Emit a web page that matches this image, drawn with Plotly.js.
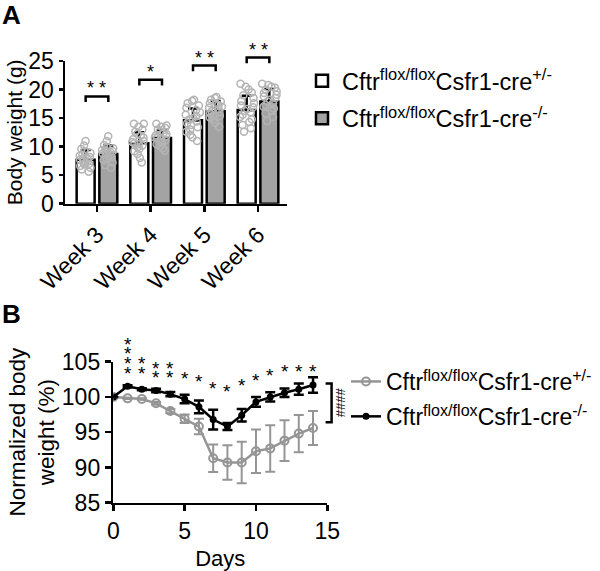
<!DOCTYPE html>
<html><head><meta charset="utf-8">
<script src="https://cdn.plot.ly/plotly-3.0.1.min.js"></script>
<style>html,body{margin:0;padding:0;background:#fff}#chart{width:600px;height:571px}</style>
</head><body><div id="chart"></div>
<script>
// ---------- Panel A data ----------
const weeks = ['Week 3', 'Week 4', 'Week 5', 'Week 6'];
const hetMean = [7.7, 10.6, 14.6, 16.4];
const hetSD = [1.7, 1.9, 2.1, 2.5];
const koMean = [8.7, 11.5, 16.2, 17.9];
const koSD = [1.5, 1.4, 1.8, 2.2];
const hetPoints = [
  [5.6, 6.0, 6.3, 6.6, 6.9, 7.0, 7.2, 7.4, 7.5, 7.7, 7.9, 8.0, 8.2, 8.4, 8.6, 8.9, 9.2, 9.6, 10.2, 11.0],
  [7.2, 8.0, 8.7, 9.2, 9.6, 9.9, 10.2, 10.4, 10.6, 10.8, 11.0, 11.3, 11.6, 11.9, 12.2, 12.6, 13.0, 13.5, 14.0, 14.0],
  [11.0, 11.6, 12.1, 12.6, 13.0, 13.4, 13.8, 14.1, 14.4, 14.7, 15.0, 15.3, 15.6, 16.0, 16.4, 16.8, 17.2, 17.6, 18.0, 18.2],
  [12.6, 13.2, 13.8, 14.3, 14.8, 15.2, 15.6, 16.0, 16.3, 16.6, 16.9, 17.2, 17.6, 18.0, 18.5, 19.0, 19.5, 20.0, 20.5, 21.0]
];
const koPoints = [
  [6.3, 6.8, 7.2, 7.6, 7.9, 8.1, 8.3, 8.5, 8.7, 8.8, 9.0, 9.1, 9.2, 9.4, 9.5, 9.7, 9.9, 10.3, 11.0, 11.8],
  [9.3, 9.7, 10.1, 10.4, 10.7, 10.9, 11.1, 11.3, 11.5, 11.6, 11.8, 12.0, 12.2, 12.4, 12.7, 13.0, 13.3, 13.5, 13.7, 14.0],
  [13.5, 14.2, 14.7, 15.1, 15.3, 15.4, 15.6, 15.8, 16.0, 16.2, 16.4, 16.6, 16.8, 17.0, 17.3, 17.6, 17.9, 18.2, 18.5, 18.7],
  [14.5, 15.2, 15.8, 16.3, 16.7, 17.0, 17.3, 17.6, 17.9, 18.2, 18.5, 18.8, 19.1, 19.4, 19.7, 20.0, 20.3, 20.5, 20.8, 21.0]
];
const sigA = ['**', '*', '**', '**'];
const sigAy = [18.8, 21.7, 24.2, 25.6];

// ---------- Panel B data ----------
const days = [0, 1, 2, 3, 4, 5, 6, 7, 8, 9, 10, 11, 12, 13, 14];
const hetNorm = [100, 99.8, 99.7, 99.1, 98.0, 96.9, 95.8, 91.3, 90.7, 90.7, 92.3, 92.7, 93.8, 94.8, 95.6];
const hetNormSD = [0, 0.1, 0.1, 0.2, 0.3, 0.6, 1.1, 1.95, 2.45, 2.95, 3.1, 3.3, 2.9, 2.65, 2.4];
const koNorm = [100, 101.5, 101.1, 100.9, 100.4, 99.7, 98.6, 96.8, 95.8, 97.4, 99.3, 100.0, 100.6, 101.1, 101.7];
const koNormSD = [0, 0.15, 0.15, 0.25, 0.3, 0.6, 0.9, 1.4, 0.5, 0.9, 0.7, 0.65, 0.6, 0.8, 1.1];
const starCount = [0, 4, 2, 2, 2, 1, 1, 1, 1, 1, 1, 1, 1, 1, 1];
const starY = [null, 104.1, 104.1, 103.45, 103.45, 103.35, 102.95, 101.95, 101.55, 102.3, 103.1, 103.8, 104.3, 104.3, 104.3];
const groupSig = '####';
const groupBracketY = [101.9, 96.4];
const groupBracketX = [14.88, 15.3];

const names = [
  'Cftr<sup>flox/flox</sup>Csfr1-cre<sup>+/-</sup>',
  'Cftr<sup>flox/flox</sup>Csfr1-cre<sup>-/-</sup>'
];

// ---------- styles / layout geometry ----------
const FONT = 'Liberation Sans, Arial, sans-serif';
const GRAY_BAR = '#a3a3a3';
const GRAY_PT = '#b4b4b4';
const GRAY_LINE = '#959595';
const BARGAP = 0.155, BARGROUPGAP = 0.207;
const OFF = (1 - BARGAP) / 4;
const idx = weeks.map((w, i) => i);

const domAx = [65 / 600, 287 / 600], domAy = [1 - 203.7 / 571, 1 - 61 / 571];
const rangeAx = [-0.596, 3.54], rangeAy = [0, 25];
const domBx = [113.3 / 600, 327.3 / 600], domBy = [1 - 502.7 / 571, 1 - 361.7 / 571];
const rangeBx = [0, 15], rangeBy = [85, 105];
// map an axis value to paper fraction (for marks placed beyond the axis range)
function toPaper(v, dom, rng) { return dom[0] + (v - rng[0]) / (rng[1] - rng[0]) * (dom[1] - dom[0]); }

const traces = [];
traces.push({
  type: 'bar', x: idx, y: hetMean, name: names[0], legend: 'legend', legendgroup: 'a1',
  marker: {color: '#ffffff', line: {color: '#000', width: 2.5}},
  error_y: {type: 'data', symmetric: false, array: hetSD, arrayminus: hetSD.map(() => 0), color: '#000', thickness: 2.5, width: 5},
  xaxis: 'x', yaxis: 'y', hoverinfo: 'skip'
});
traces.push({
  type: 'bar', x: idx, y: koMean, name: names[1], legend: 'legend', legendgroup: 'a2',
  marker: {color: GRAY_BAR, line: {color: '#000', width: 2.5}},
  error_y: {type: 'data', symmetric: false, array: koSD, arrayminus: koSD.map(() => 0), color: '#000', thickness: 2.5, width: 5},
  xaxis: 'x', yaxis: 'y', hoverinfo: 'skip'
});
function boxTrace(pts) {
  const x = [], y = [];
  pts.forEach((arr, i) => arr.forEach(v => { x.push(i); y.push(v); }));
  return {
    type: 'box', x: x, y: y, boxpoints: 'all', jitter: 0.85, pointpos: 0,
    line: {width: 0, color: 'rgba(0,0,0,0)'}, fillcolor: 'rgba(0,0,0,0)',
    marker: {symbol: 'circle-open', size: 7, color: GRAY_PT, line: {width: 1.5, color: GRAY_PT}},
    showlegend: false, xaxis: 'x', yaxis: 'y', hoverinfo: 'skip'
  };
}
traces.push(boxTrace(hetPoints));
traces.push(boxTrace(koPoints));

traces.push({
  type: 'scatter', mode: 'lines+markers', x: days, y: hetNorm, name: names[0], legend: 'legend2', legendgroup: 'b1',
  line: {color: GRAY_LINE, width: 2.5},
  marker: {symbol: 'circle-open', size: 8, color: GRAY_LINE, line: {width: 2, color: GRAY_LINE}},
  error_y: {type: 'data', array: hetNormSD, color: GRAY_LINE, thickness: 2, width: 5},
  xaxis: 'x2', yaxis: 'y2', hoverinfo: 'skip'
});
traces.push({
  type: 'scatter', mode: 'lines+markers', x: days, y: koNorm, name: names[1], legend: 'legend2', legendgroup: 'b2',
  line: {color: '#000', width: 2.5},
  marker: {symbol: 'circle', size: 7, color: '#000'},
  error_y: {type: 'data', array: koNormSD, color: '#000', thickness: 2.5, width: 5},
  xaxis: 'x2', yaxis: 'y2', hoverinfo: 'skip'
});

// shapes: significance brackets
const shapes = [];
sigAy.forEach((v, i) => {
  const yTop = toPaper(v, domAy, rangeAy), yLeg = toPaper(v - 1.0, domAy, rangeAy);
  shapes.push({type: 'path', xref: 'x', yref: 'paper',
    path: `M${i - OFF},${yLeg} L${i - OFF},${yTop} L${i + OFF},${yTop} L${i + OFF},${yLeg}`,
    line: {color: '#000', width: 2.5}});
});
const gbx0 = toPaper(groupBracketX[0], domBx, rangeBx), gbx1 = toPaper(groupBracketX[1], domBx, rangeBx);
shapes.push({type: 'path', xref: 'paper', yref: 'y2',
  path: `M${gbx0},${groupBracketY[0]} L${gbx1},${groupBracketY[0]} L${gbx1},${groupBracketY[1]} L${gbx0},${groupBracketY[1]}`,
  line: {color: '#000', width: 2.5}});

// annotations
const ann = [];
ann.push({text: '<b>A</b>', xref: 'paper', yref: 'paper', x: 0, y: 1.003, xanchor: 'left', yanchor: 'top', showarrow: false, font: {size: 26, family: FONT, color: '#000'}});
ann.push({text: '<b>B</b>', xref: 'paper', yref: 'paper', x: 0, y: 1 - 297 / 571, xanchor: 'left', yanchor: 'top', showarrow: false, font: {size: 26, family: FONT, color: '#000'}});
sigA.forEach((s, i) => {
  ann.push({text: s.split('').join(' '), xref: 'x', yref: 'paper', x: i, y: toPaper(sigAy[i], domAy, rangeAy), yanchor: 'bottom', yshift: -4, showarrow: false,
    font: {size: 18, family: FONT, color: '#000'}});
});
days.forEach((d, i) => {
  for (let k = 0; k < starCount[i]; k++) {
    ann.push({text: '*', xref: 'x2', yref: 'y2', x: d, y: starY[i], yanchor: 'middle', yshift: -5 + k * 9.6, showarrow: false,
      font: {size: 19, family: FONT, color: '#000'}});
  }
});
ann.push({text: groupSig, xref: 'paper', yref: 'y2', x: gbx1, xshift: 8, y: (groupBracketY[0] + groupBracketY[1]) / 2, textangle: 90,
  showarrow: false, font: {size: 13, family: FONT, color: '#000'}});

const axBase = {
  showline: true, linecolor: '#000', linewidth: 2.5, ticks: 'outside', ticklen: 6, tickwidth: 2.5, tickcolor: '#000',
  showgrid: false, zeroline: false, tickfont: {size: 23, family: FONT, color: '#000'}, fixedrange: true
};

const layout = {
  width: 600, height: 571,
  margin: {l: 0, r: 0, t: 0, b: 0},
  paper_bgcolor: '#fff', plot_bgcolor: '#fff',
  font: {family: FONT, color: '#000'},
  barmode: 'group', bargap: BARGAP, bargroupgap: BARGROUPGAP,
  boxmode: 'group', boxgap: BARGAP, boxgroupgap: BARGROUPGAP,
  xaxis: Object.assign({}, axBase, {domain: domAx, range: rangeAx, tickvals: idx, ticktext: weeks, tickangle: -45, anchor: 'y'}),
  yaxis: Object.assign({}, axBase, {domain: domAy, range: rangeAy, tickvals: [0, 5, 10, 15, 20, 25], ticklen: 4, anchor: 'x',
    title: {text: 'Body weight (g)', font: {size: 21, family: FONT}, standoff: 0}}),
  xaxis2: Object.assign({}, axBase, {domain: domBx, range: rangeBx, tickvals: [0, 5, 10, 15], anchor: 'y2',
    title: {text: 'Days', font: {size: 22, family: FONT}, standoff: 10}}),
  yaxis2: Object.assign({}, axBase, {domain: domBy, range: rangeBy, tickvals: [85, 90, 95, 100, 105], anchor: 'x2',
    title: {text: 'Normalized body<br>weight (%)', font: {size: 22.5, family: FONT}, standoff: 1}}),
  legend: {x: 302 / 600, y: 1 - 59 / 571, xanchor: 'left', yanchor: 'top', traceorder: 'grouped', tracegroupgap: 4,
    font: {size: 23.5, family: FONT, color: '#000'}, bgcolor: 'rgba(0,0,0,0)'},
  legend2: {x: 346 / 600, y: 1 - 360 / 571, xanchor: 'left', yanchor: 'top', traceorder: 'grouped', tracegroupgap: 2,
    font: {size: 23, family: FONT, color: '#000'}, bgcolor: 'rgba(0,0,0,0)'},
  shapes: shapes,
  annotations: ann,
  showlegend: true
};

Plotly.newPlot('chart', traces, layout, {displayModeBar: false, staticPlot: true});
</script>
</body></html>
